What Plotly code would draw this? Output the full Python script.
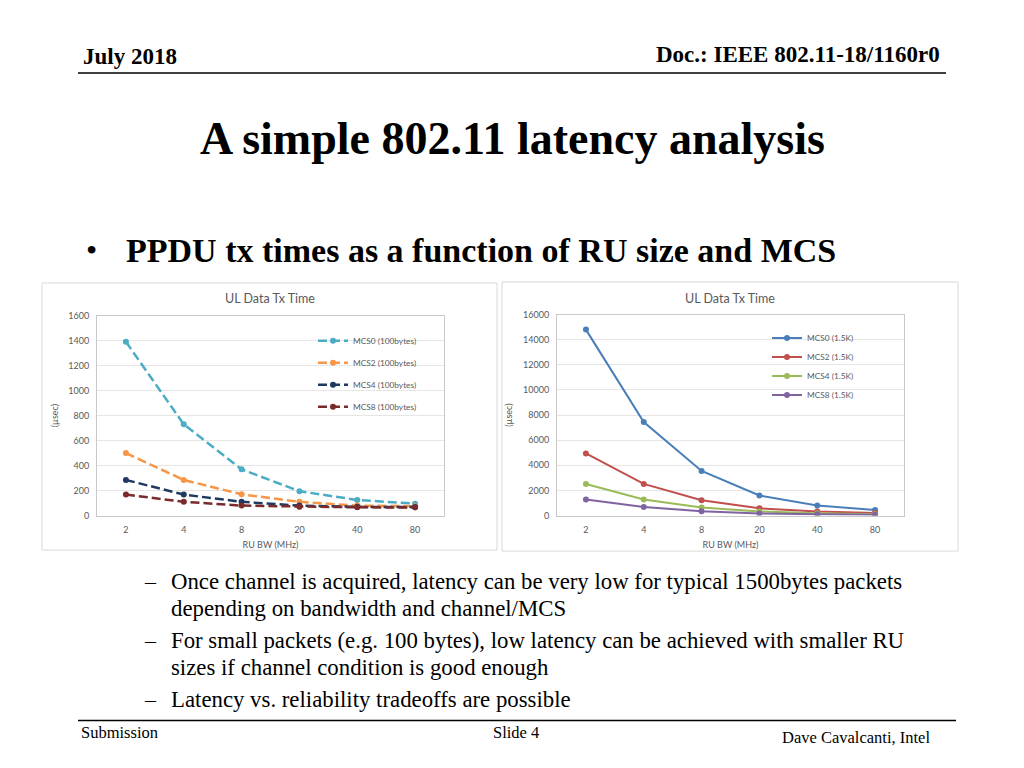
import plotly.graph_objects as go

# ---------------- data ----------------
ru_bw = ["2", "4", "8", "20", "40", "80"]

small_names = ["MCS0 (100bytes)", "MCS2 (100bytes)", "MCS4 (100bytes)", "MCS8 (100bytes)"]
small_mcs0 = [1390, 730, 370, 195, 125, 95]
small_mcs2 = [500, 285, 170, 110, 80, 75]
small_mcs4 = [285, 168, 110, 80, 70, 68]
small_mcs8 = [168, 110, 80, 70, 66, 65]
small_colors = ["#4BACC6", "#F79646", "#1F3A60", "#7B2B2B"]

large_names = ["MCS0 (1.5K)", "MCS2 (1.5K)", "MCS4 (1.5K)", "MCS8 (1.5K)"]
large_mcs0 = [14800, 7450, 3550, 1600, 800, 450]
large_mcs2 = [4950, 2520, 1220, 580, 320, 200]
large_mcs4 = [2520, 1280, 650, 330, 180, 110]
large_mcs8 = [1280, 680, 350, 170, 100, 70]
large_colors = ["#4A7EBB", "#C0504D", "#9BBB59", "#8064A2"]

W, H = 1024, 768
def px(x):
    return x / W
def py(y):
    return 1 - y / H

SERIF = "Liberation Serif"
CHART_FONT = "Lato"
GREY = "#595959"

fig = go.Figure()

for name, vals, col in zip(small_names, [small_mcs0, small_mcs2, small_mcs4, small_mcs8], small_colors):
    fig.add_trace(go.Scatter(
        x=ru_bw, y=vals, name=name, mode="lines+markers",
        line=dict(color=col, width=2.5, dash="9px,4px"),
        marker=dict(color=col, size=6, symbol="circle"),
        xaxis="x", yaxis="y", legend="legend", legendgroup=name,
    ))

for name, vals, col in zip(large_names, [large_mcs0, large_mcs2, large_mcs4, large_mcs8], large_colors):
    fig.add_trace(go.Scatter(
        x=ru_bw, y=vals, name=name, mode="lines+markers",
        line=dict(color=col, width=2),
        marker=dict(color=col, size=6, symbol="circle"),
        xaxis="x2", yaxis="y2", legend="legend2",
    ))

axis_common = dict(
    showline=True, linecolor="#C8C8C8", linewidth=1, mirror=True,
    tickfont=dict(family=CHART_FONT, size=9, color=GREY),
    ticks="", zeroline=False,
)
title_font = dict(family=CHART_FONT, size=9, color=GREY)

fig.update_layout(
    width=W, height=H, margin=dict(l=0, r=0, t=0, b=0),
    paper_bgcolor="white", plot_bgcolor="white",
    xaxis=dict(domain=[px(97), px(444)], anchor="y", type="category",
               categoryorder="array", categoryarray=ru_bw, range=[-0.5, 5.5],
               showgrid=False, ticklabelstandoff=6,
               title=dict(text="RU BW (MHz)", font=title_font, standoff=7),
               **axis_common),
    yaxis=dict(domain=[py(517), py(314)], anchor="x", range=[0, 1600], dtick=200,
               showgrid=True, gridcolor="#E6E6E6", ticklabelstandoff=5, tickformat="d",
               title=dict(text="(µsec)", font=title_font, standoff=8),
               **axis_common),
    xaxis2=dict(domain=[px(557), px(904)], anchor="y2", type="category",
                categoryorder="array", categoryarray=ru_bw, range=[-0.5, 5.5],
                showgrid=False, ticklabelstandoff=6,
                title=dict(text="RU BW (MHz)", font=title_font, standoff=7),
                **axis_common),
    yaxis2=dict(domain=[py(517), py(313)], anchor="x2", range=[0, 16000], dtick=2000,
                showgrid=True, gridcolor="#E6E6E6", ticklabelstandoff=5, tickformat="d",
                title=dict(text="(µsec)", font=title_font, standoff=8),
                **axis_common),
    legend=dict(x=px(313), y=py(325), xanchor="left", yanchor="top",
                bgcolor="rgba(0,0,0,0)", font=dict(family=CHART_FONT, size=8.3, color=GREY),
                tracegroupgap=3, itemwidth=30),
    legend2=dict(x=px(767), y=py(322), xanchor="left", yanchor="top",
                 bgcolor="rgba(0,0,0,0)", font=dict(family=CHART_FONT, size=8.3, color=GREY),
                 itemwidth=30),
    showlegend=True,
)

shapes = [
    # header & footer rules
    dict(type="line", xref="paper", yref="paper", x0=px(78), x1=px(946), y0=py(68), y1=py(68),
         line=dict(color="black", width=1.5)),
    dict(type="line", xref="paper", yref="paper", x0=px(78), x1=px(956), y0=py(725), y1=py(725),
         line=dict(color="black", width=1.5)),
    # chart frames
    dict(type="rect", xref="paper", yref="paper", x0=px(42), x1=px(497), y0=py(552), y1=py(281),
         line=dict(color="#D9D9D9", width=1)),
    dict(type="rect", xref="paper", yref="paper", x0=px(502), x1=px(958), y0=py(553), y1=py(280),
         line=dict(color="#D9D9D9", width=1)),
]
fig.update_layout(shapes=shapes)

def txt(x, y, s, size, bold=False, family=SERIF, anchor="left", color="black"):
    fig.add_annotation(
        x=px(x), y=py(y), xref="paper", yref="paper", showarrow=False,
        text=f"<b>{s}</b>" if bold else s, xanchor=anchor, yanchor="middle",
        font=dict(family=family, size=size, color=color),
    )

txt(81, 51, "July 2018", 23, bold=True)
txt(942, 49, "Doc.: IEEE 802.11-18/1160r0", 23, bold=True, anchor="right")
txt(512, 134, "A simple 802.11 latency analysis", 46, bold=True, anchor="center")
txt(84, 248, "•", 32, bold=False)
txt(124, 248, "PPDU tx times as a function of RU size and MCS", 34, bold=True)

txt(270, 297, "UL Data Tx Time", 12.5, family=CHART_FONT, anchor="center", color=GREY)
txt(730, 297, "UL Data Tx Time", 12.5, family=CHART_FONT, anchor="center", color=GREY)

sub_lines = [
    (584, "–", "Once channel is acquired, latency can be very low for typical 1500bytes packets"),
    (611, "", "depending on bandwidth and channel/MCS"),
    (644, "–", "For small packets (e.g. 100 bytes), low latency can be achieved with smaller RU"),
    (671, "", "sizes if channel condition is good enough"),
    (704, "–", "Latency vs. reliability tradeoffs are possible"),
]
for y, dash, s in sub_lines:
    if dash:
        txt(142, y, dash, 22)
    txt(169, y, s, 22.8)

txt(79, 737, "Submission", 16.5)
txt(516, 737, "Slide 4", 16.5, anchor="center")
txt(932, 742, "Dave Cavalcanti, Intel", 16.5, anchor="right")

fig.write_html("out.html", config={"displayModeBar": False},
               post_script="document.body.style.margin='0';")
